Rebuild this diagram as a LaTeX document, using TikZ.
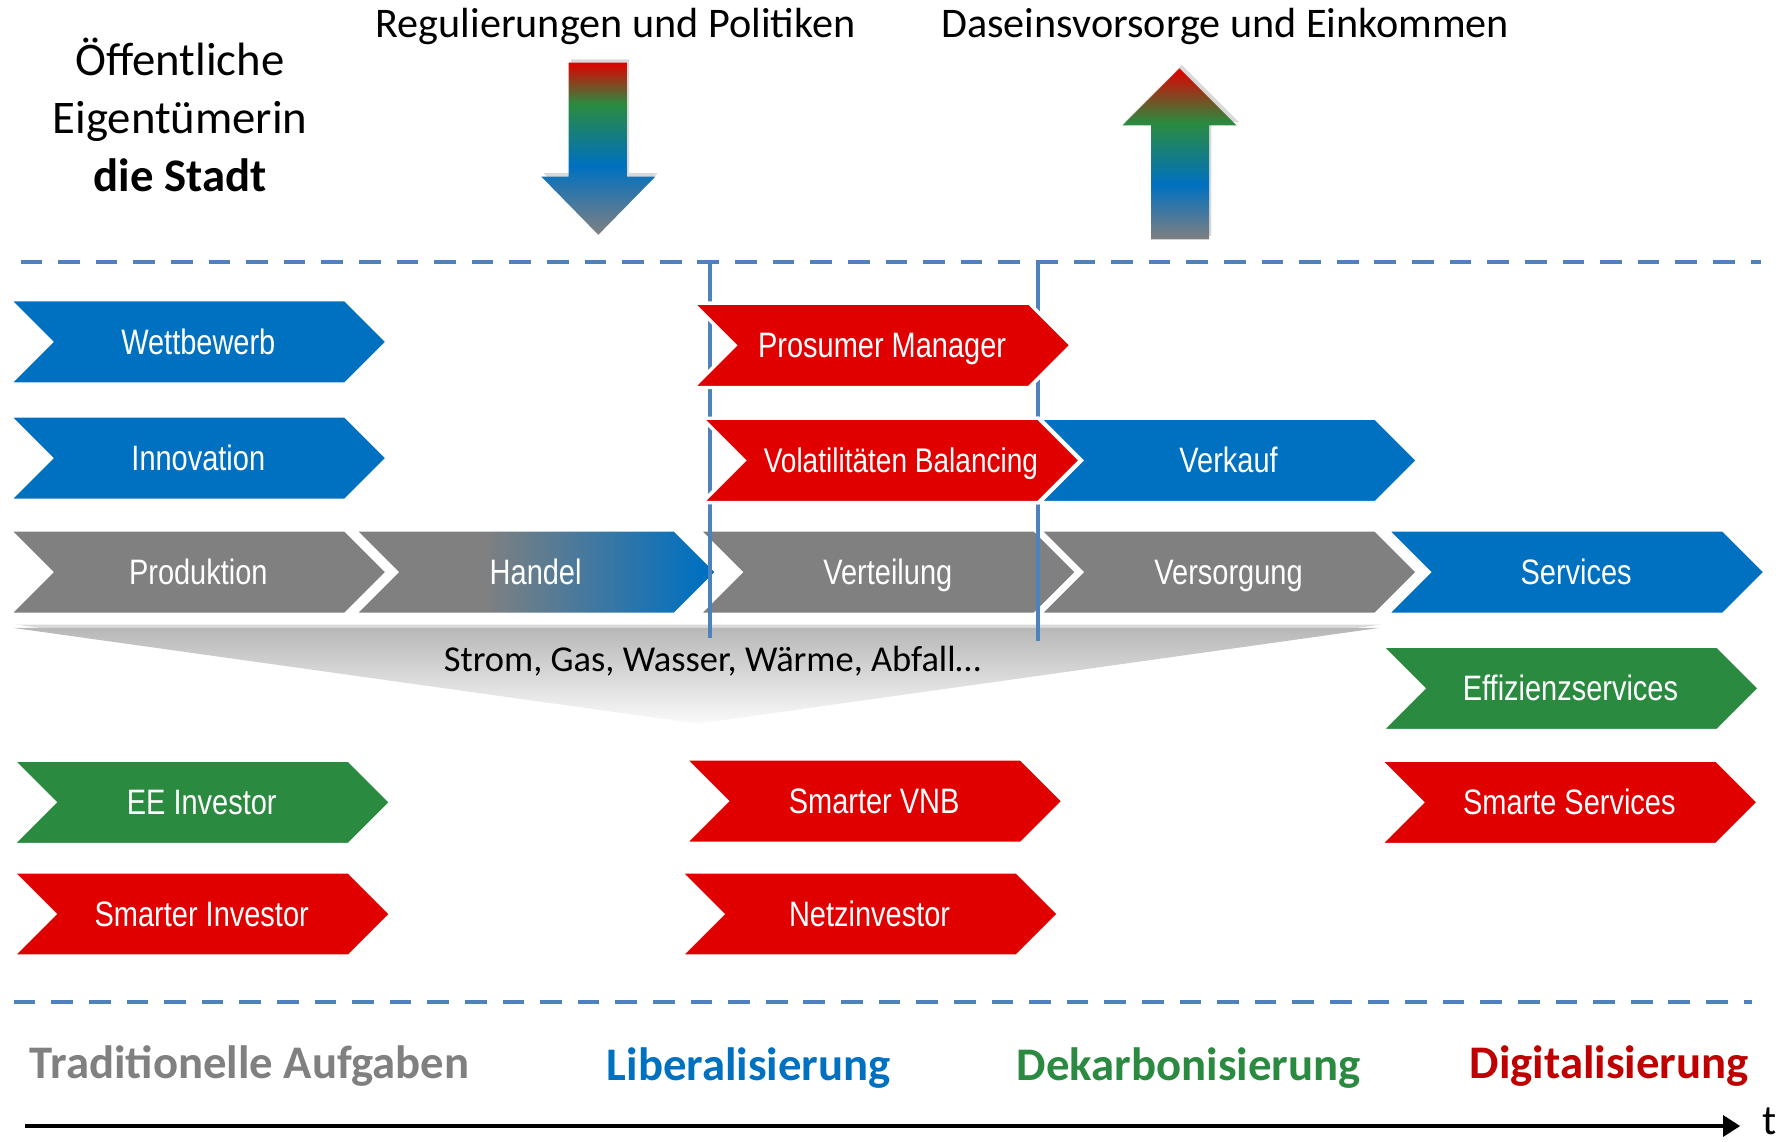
\documentclass[tikz,border=0pt]{standalone}
\usepackage{fontspec}
\setmainfont{Carlito}
\newfontfamily\narrowfont[FakeStretch=0.82]{Liberation Sans}
\usetikzlibrary{shapes.symbols, arrows.meta, shadows}
\definecolor{chevblue}{RGB}{0,112,192}
\definecolor{chevred}{RGB}{224,0,0}
\definecolor{chevgreen}{RGB}{42,139,64}
\definecolor{chevgray}{RGB}{128,128,128}
\definecolor{lineblue}{RGB}{79,129,189}
\definecolor{digired}{RGB}{192,0,0}
\pgfdeclarehorizontalshading{handelshade}{100bp}{color(0bp)=(chevgray); color(43bp)=(chevgray); color(73bp)=(chevblue); color(100bp)=(chevblue)}
\pgfdeclareverticalshading{downshade}{100bp}{color(0bp)=(chevgray); color(25bp)=(chevgray); color(45bp)=(chevblue); color(63bp)=(chevgreen); color(75bp)=(chevred); color(100bp)=(chevred)}
\pgfdeclareverticalshading{upshade}{100bp}{color(0bp)=(chevgray); color(25bp)=(chevgray); color(41bp)=(chevblue); color(59bp)=(chevgreen); color(75bp)=(chevred); color(100bp)=(chevred)}
\tikzset{
	chev/.style={signal, signal to=east, signal from=west, signal pointer angle=90,
		minimum width=332, minimum height=74, inner sep=0, draw=white, line width=3,
		text height=22, text depth=0,
		text=white, font=\narrowfont\fontsize{31}{31}\selectfont},
	chevblue/.style={chev, fill=chevblue},
	chevred/.style={chev, fill=chevred},
	chevgreen/.style={chev, fill=chevgreen},
	chevgray/.style={chev, fill=chevgray},
	phase/.style={font=\bfseries\fontsize{41}{41}\selectfont},
	headline/.style={font=\fontsize{37}{37}\selectfont},
	dashline/.style={draw=lineblue, line width=4, dash pattern=on 19 off 14},
	bracket/.style={draw=lineblue, line width=3.5},
	bigarrow/.style={drop shadow={opacity=0.3, shadow xshift=2, shadow yshift=-3}},
}
\begin{document}
\begin{tikzpicture}[x=1pt, y=-1pt]
	\useasboundingbox (0,0) rectangle (1568,1002);
	% Eigentuemer und Ein-/Ausgaenge
	\node[align=center, font=\fontsize{41}{51}\selectfont] (owner) at (158,101) {Öffentliche\\Eigentümerin\\\textbf{die Stadt}};
	\node[headline] (regul) at (540,23) {Regulierungen und Politiken};
	\node[headline] (dasein) at (1075,23) {Daseinsvorsorge und Einkommen};
	\path[bigarrow, shading=downshade] (499,55) -- (550,55) -- (550,155) -- (575,155) -- (525,206) -- (475,155) -- (499,155) -- cycle;
	\path[bigarrow, shading=upshade] (1010,210) -- (1061,210) -- (1061,110) -- (1085,110) -- (1035,60) -- (985,110) -- (1010,110) -- cycle;
	% gestrichelte Grenzen
	\coordinate (dtopl) at (18,230);
	\coordinate (dtopr) at (1545,230);
	\coordinate (dbotl) at (12,879);
	\coordinate (dbotr) at (1537,879);
	\draw[dashline] (dtopl) -- (dtopr);
	\draw[dashline] (dbotl) -- (dbotr);
	% Sparten
	\path[bigarrow, top color=black!28, bottom color=black!2] (12,551) -- (1210,551) -- (612,635) -- cycle;
	\node[font=\fontsize{32}{32}\selectfont] (sparten) at (625,580) {Strom, Gas, Wasser, Wärme, Abfall…};
	% Wertschoepfungskette
	\node[chevgray] (prod) at (174,502) {Produktion};
	\node[chev, minimum width=318, shading=handelshade] (handel) at (470,502) {Handel};
	\node[chevgray] (verteil) at (779,502) {Verteilung};
	\node[chevgray] (versorg) at (1078,502) {Versorgung};
	\node[chevblue] (serv) at (1383,502) {Services};
	\coordinate (vla) at (623,230);
	\coordinate (vlb) at (623,560);
	\coordinate (vra) at (911,232);
	\coordinate (vrb) at (911,562);
	\draw[bracket] (vla) -- (vlb);
	\draw[bracket] (vra) -- (vrb);
	% neue Rollen
	\node[chevblue] (wettb) at (174,300) {Wettbewerb};
	\node[chevblue] (innov) at (174,402) {Innovation};
	\node[chevred] (prosumer) at (774,303) {Prosumer Manager};
	\node[chevblue] (verkauf) at (1078,404) {Verkauf};
	\node[chevred, font=\narrowfont\fontsize{30}{30}\selectfont] (volat) at (782,404) {\hspace*{17pt}Volatilitäten Balancing};
	\node[chevgreen] (effiz) at (1378,604) {Effizienzservices};
	\node[chevgreen] (eeinv) at (177,704) {EE Investor};
	\node[chevred] (vnb) at (767,703) {Smarter VNB};
	\node[chevred] (smserv) at (1377,704) {Smarte Services};
	\node[chevred] (sminv) at (177,802) {Smarter Investor};
	\node[chevred] (netzinv) at (763,802) {Netzinvestor};
	% Phasen und Zeitachse
	\node[phase, text=chevgray] (trad) at (219,935) {Traditionelle Aufgaben};
	\node[phase, text=chevblue] (lib) at (657,937) {Liberalisierung};
	\node[phase, text=chevgreen] (dekarb) at (1043,937) {Dekarbonisierung};
	\node[phase, text=digired] (digi) at (1412,935) {Digitalisierung};
	\coordinate (tstart) at (22,988);
	\coordinate (tend) at (1527,988);
	\draw[line width=4, -{Triangle[length=15, width=18]}] (tstart) -- (tend);
	\node[headline, inner sep=0] (tlabel) at (1553,984) {t};
\end{tikzpicture}
\end{document}
